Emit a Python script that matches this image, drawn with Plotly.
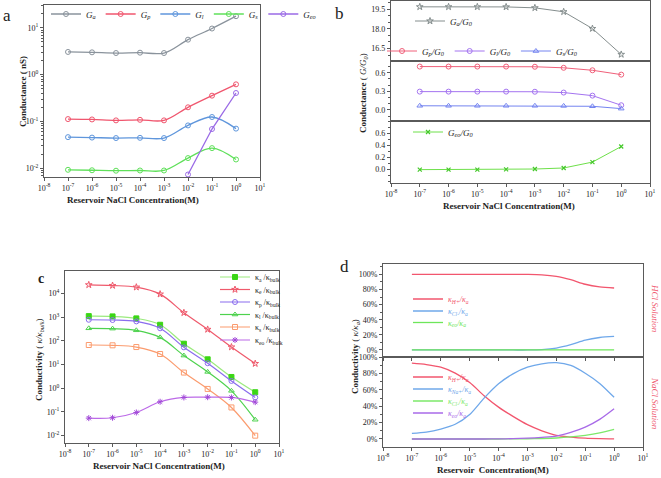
import plotly.graph_objects as go

W, H = 661, 478
FONT = "Liberation Serif"

# ---------------- data ----------------
conc = [1e-7, 1e-6, 1e-5, 1e-4, 1e-3, 1e-2, 1e-1, 1e0]
x_tickvals = [1e-8, 1e-7, 1e-6, 1e-5, 1e-4, 1e-3, 1e-2, 1e-1, 1e0, 1e1]
x_ticktext = ["10<sup>-8</sup>", "10<sup>-7</sup>", "10<sup>-6</sup>", "10<sup>-5</sup>", "10<sup>-4</sup>",
              "10<sup>-3</sup>", "10<sup>-2</sup>", "10<sup>-1</sup>", "10<sup>0</sup>", "10<sup>1</sup>"]

# panel a: conductance (nS)
a_Ga = [3.06, 3.0, 2.9, 2.95, 2.9, 5.6, 9.7, 17.8]
a_Gp = [0.112, 0.11, 0.105, 0.108, 0.105, 0.2, 0.355, 0.62]
a_Gl = [0.046, 0.045, 0.044, 0.0445, 0.044, 0.082, 0.124, 0.07]
a_Gs = [0.0092, 0.009, 0.0088, 0.0089, 0.0089, 0.0164, 0.0268, 0.0153]
a_Geo_conc = [1e-2, 1e-1, 1e0]
a_Geo = [0.0073, 0.0686, 0.405]
a_y_tickvals = [1e-2, 1e-1, 1e0, 1e1]
a_y_ticktext = ["10<sup>-2</sup>", "10<sup>-1</sup>", "10<sup>0</sup>", "10<sup>1</sup>"]

# panel b: G/G0
b_Ga = [19.675, 19.675, 19.675, 19.67, 19.6, 19.3, 18.02, 16.05]
b_Gp = [0.70, 0.70, 0.70, 0.70, 0.697, 0.68, 0.64, 0.57]
b_Gl = [0.295, 0.295, 0.295, 0.295, 0.293, 0.28, 0.23, 0.075]
b_Gs = [0.066, 0.066, 0.066, 0.066, 0.066, 0.064, 0.058, 0.02]
b_Geo = [0.0, 0.0, 0.0, 0.003, 0.01, 0.027, 0.124, 0.38]

# panel c: kappa / kappa_bulk
c_ka = [1110, 1080, 890, 480, 76, 16.7, 3.0, 0.68]
c_ke = [23200, 21700, 18500, 9400, 1540, 305, 55, 11]
c_kp = [780, 760, 665, 340, 53.5, 11.4, 2.04, 0.41]
c_kl = [340, 330, 280, 141, 24, 4.9, 0.78, 0.047]
c_ks = [67, 65, 55, 28, 4.6, 0.94, 0.155, 0.01]
c_keo = [0.055, 0.057, 0.095, 0.27, 0.41, 0.42, 0.41, 0.26]
c_y_tickvals = [1e-2, 1e-1, 1e0, 1e1, 1e2, 1e3, 1e4]
c_y_ticktext = ["10<sup>-2</sup>", "10<sup>-1</sup>", "10<sup>0</sup>", "10<sup>1</sup>",
                "10<sup>2</sup>", "10<sup>3</sup>", "10<sup>4</sup>"]

# panel d: fractions (%)
d_conc = [1e-7, 3.16e-7, 1e-6, 3.16e-6, 1e-5, 3.16e-5, 1e-4, 3.16e-4, 1e-3,
          3.16e-3, 1e-2, 3.16e-2, 1e-1, 3.16e-1, 1e0]
d_hcl_H = [100, 100, 100, 100, 100, 100, 100, 100, 100, 99.5, 97.5, 93, 87, 83.5, 82]
d_hcl_Cl = [0, 0, 0, 0, 0, 0, 0, 0, 0, 0.5, 2.5, 7, 13, 16.5, 18]
d_hcl_eo = [0, 0, 0, 0, 0, 0, 0, 0, 0, 0, 0, 0, 0, 0, 0]
d_nacl_H = [92.7, 91, 87.8, 80.5, 69, 53, 39, 27.6, 17.5, 10, 4.5, 2.4, 1.0, 0.4, 0.2]
d_nacl_Na = [6.9, 8.5, 12.2, 18, 30, 50, 67.5, 79.7, 87.8, 92, 93.3, 90, 80.5, 68, 51]
d_nacl_Cl = [0, 0, 0, 0, 0, 0, 0, 0.1, 0.3, 0.6, 1.2, 2.5, 4.5, 7.5, 11.8]
d_nacl_eo = [0, 0, 0, 0, 0, 0, 0.1, 0.4, 1, 2, 3.5, 8, 14.5, 24, 37]
d_y_tickvals = [0, 20, 40, 60, 80, 100]
d_y_ticktext = ["0%", "20%", "40%", "60%", "80%", "100%"]

# ---------------- helpers ----------------
def xdom(l, r):
    return [l / W, r / W]

def ydom(t, b):
    return [1 - b / H, 1 - t / H]

def px(x):
    return x / W

def py(y):
    return 1 - y / H

LINEC = "#5a5a5a"
TICKFONT = dict(family=FONT, size=8, color="#222")

def base_axis(**kw):
    d = dict(showline=True, linecolor=LINEC, linewidth=1.2, mirror=True, ticks="outside",
             ticklen=3, tickwidth=1, tickcolor=LINEC, showgrid=False, zeroline=False,
             automargin=False, tickfont=TICKFONT)
    d.update(kw)
    return d

def xlog(domain, anchor, labels=True, ticks="outside"):
    return base_axis(type="log", range=[-8, 1], domain=domain, anchor=anchor,
                     tickmode="array", tickvals=x_tickvals, ticktext=x_ticktext,
                     showticklabels=labels, ticks=ticks)

def leg(x, y, color="#222", orientation="v", size=8):
    return dict(x=px(x), y=py(y), xanchor="left", yanchor="middle", orientation=orientation,
                bgcolor="rgba(0,0,0,0)", borderwidth=0, itemwidth=30, tracegroupgap=0,
                font=dict(family=FONT, size=size, color=color))

fig = go.Figure()

# ---------------- panel a ----------------
a_series = [
    ("<i>G<sub>a</sub></i>", a_Ga, "#8a939c"),
    ("<i>G<sub>p</sub></i>", a_Gp, "#f0566e"),
    ("<i>G<sub>l</sub></i>", a_Gl, "#5f96dc"),
    ("<i>G<sub>s</sub></i>", a_Gs, "#5fe05a"),
]
for name, ys, col in a_series:
    fig.add_trace(go.Scatter(x=conc, y=ys, name=name, mode="lines+markers",
                             line=dict(color=col, width=1.3, shape="spline", smoothing=1),
                             marker=dict(symbol="circle-open", size=5, color=col, line=dict(width=1)),
                             xaxis="x", yaxis="y", legend="legend"))
fig.add_trace(go.Scatter(x=a_Geo_conc, y=a_Geo, name="<i>G<sub>eo</sub></i>", mode="lines+markers",
                         line=dict(color="#9a6ae6", width=1.3),
                         marker=dict(symbol="circle-open", size=5, color="#9a6ae6", line=dict(width=1)),
                         xaxis="x", yaxis="y", legend="legend"))

# ---------------- panel b ----------------
fig.add_trace(go.Scatter(x=conc, y=b_Ga, name="<i>G<sub>a</sub>/G<sub>0</sub></i>", mode="lines+markers",
                         line=dict(color="#858e8e", width=1),
                         marker=dict(symbol="star-open", size=5, color="#858e8e", line=dict(width=1)),
                         xaxis="x2", yaxis="y2", legend="legend2"))
for name, ys, col, sym in [
    ("<i>G<sub>p</sub>/G<sub>0</sub></i>", b_Gp, "#f0607a", "circle-open"),
    ("<i>G<sub>l</sub>/G<sub>0</sub></i>", b_Gl, "#a474f0", "circle-open"),
    ("<i>G<sub>s</sub>/G<sub>0</sub></i>", b_Gs, "#7484f0", "triangle-up-open"),
]:
    fig.add_trace(go.Scatter(x=conc, y=ys, name=name, mode="lines+markers",
                             line=dict(color=col, width=1),
                             marker=dict(symbol=sym, size=5, color=col, line=dict(width=1)),
                             xaxis="x3", yaxis="y3", legend="legend3"))
fig.add_trace(go.Scatter(x=conc, y=b_Geo, name="<i>G<sub>eo</sub>/G<sub>0</sub></i>", mode="lines+markers",
                         line=dict(color="#6ee04a", width=1),
                         marker=dict(symbol="x-thin-open", size=4, color="#44c82a", line=dict(width=1.2)),
                         xaxis="x4", yaxis="y4", legend="legend4"))

# ---------------- panel c ----------------
c_series = [
    ("κ<sub>a</sub> /κ<sub>bulk</sub>", c_ka, "#9bea7e", "square", "#3ad614"),
    ("κ<sub>e</sub> /κ<sub>bulk</sub>", c_ke, "#ef5a6c", "star-open", "#ef5a6c"),
    ("κ<sub>p</sub> /κ<sub>bulk</sub>", c_kp, "#8a6cee", "circle-open", "#8a6cee"),
    ("κ<sub>l</sub> /κ<sub>bulk</sub>", c_kl, "#4ed24e", "triangle-up-open", "#4ed24e"),
    ("κ<sub>s</sub> /κ<sub>bulk</sub>", c_ks, "#fb9b6e", "square-open", "#fb9b6e"),
    ("κ<sub>eo</sub> /κ<sub>bulk</sub>", c_keo, "#bc6ae8", "asterisk-open", "#a24ad8"),
]
c_leg_y = [277, 289.5, 302, 314.5, 327, 340]
for i, (name, ys, col, sym, mcol) in enumerate(c_series):
    lname = "legend" + str(5 + i)
    fig.add_trace(go.Scatter(x=conc, y=ys, name=name, mode="lines+markers",
                             line=dict(color=col, width=1.2, shape="spline", smoothing=1),
                             marker=dict(symbol=sym, size=5, color=mcol, line=dict(width=1, color=mcol)),
                             xaxis="x5", yaxis="y5", legend=lname))

# ---------------- panel d ----------------
d_top = [
    ("<i>κ<sub>H+</sub>/κ<sub>a</sub></i>", d_hcl_H, "#f2566e"),
    ("<i>κ<sub>Cl-</sub>/κ<sub>a</sub></i>", d_hcl_Cl, "#6fa8ea"),
    ("<i>κ<sub>eo</sub>/κ<sub>a</sub></i>", d_hcl_eo, "#6ee65a"),
]
d_bot = [
    ("<i>κ<sub>H+</sub>/κ<sub>a</sub></i>", d_nacl_H, "#f2566e"),
    ("<i>κ<sub>Na+</sub>/κ<sub>a</sub></i>", d_nacl_Na, "#6fa8ea"),
    ("<i>κ<sub>Cl-</sub>/κ<sub>a</sub></i>", d_nacl_Cl, "#7de86a"),
    ("<i>κ<sub>eo</sub>/κ<sub>a</sub></i>", d_nacl_eo, "#a86ae8"),
]
d_top_leg_y = [299, 311, 322.5]
d_bot_leg_y = [377, 389, 401, 413]
for i, (name, ys, col) in enumerate(d_top):
    fig.add_trace(go.Scatter(x=d_conc, y=ys, name=name, mode="lines",
                             line=dict(color=col, width=1.3, shape="spline", smoothing=0.8),
                             xaxis="x6", yaxis="y6", legend="legend" + str(11 + i)))
for i, (name, ys, col) in enumerate(d_bot):
    fig.add_trace(go.Scatter(x=d_conc, y=ys, name=name, mode="lines",
                             line=dict(color=col, width=1.3, shape="spline", smoothing=0.8),
                             xaxis="x7", yaxis="y7", legend="legend" + str(14 + i)))

# ---------------- layout ----------------
layout = dict(
    template="none",
    width=W, height=H, margin=dict(l=0, r=0, t=0, b=0, pad=0, autoexpand=False),
    paper_bgcolor="white", plot_bgcolor="white",
    font=dict(family=FONT, size=8, color="#222"),
    showlegend=True,
)

# panel a axes
layout["xaxis"] = xlog(xdom(44, 260), "y")
layout["yaxis"] = base_axis(type="log", range=[-2.19, 1.49], domain=ydom(5, 177), anchor="x",
                            tickmode="array", tickvals=a_y_tickvals, ticktext=a_y_ticktext,
                            minor=dict(ticks="outside", ticklen=2, dtick="D1", tickcolor=LINEC))
# panel b axes
layout["xaxis2"] = xlog(xdom(391, 650), "y2", labels=False, ticks="")
layout["yaxis2"] = base_axis(range=[15.55, 20.12], domain=ydom(1, 61), anchor="x2",
                             tickmode="array", tickvals=[16.5, 18.0, 19.5], tickformat=".1f",
                             minor=dict(ticks="outside", ticklen=2, dtick=0.5, tickcolor=LINEC))
layout["xaxis3"] = xlog(xdom(391, 650), "y3", labels=False, ticks="")
layout["yaxis3"] = base_axis(range=[-0.18, 0.79], domain=ydom(61, 121), anchor="x3",
                             tickmode="array", tickvals=[0.0, 0.3, 0.6], tickformat=".1f",
                             minor=dict(ticks="outside", ticklen=2, dtick=0.1, tickcolor=LINEC))
layout["xaxis4"] = xlog(xdom(391, 650), "y4")
layout["yaxis4"] = base_axis(range=[-0.22, 0.80], domain=ydom(121, 183), anchor="x4",
                             tickmode="array", tickvals=[0.0, 0.2, 0.4, 0.6], tickformat=".1f",
                             minor=dict(ticks="outside", ticklen=2, dtick=0.1, tickcolor=LINEC))
# panel c axes
layout["xaxis5"] = xlog(xdom(65, 279), "y5")
layout["yaxis5"] = base_axis(type="log", range=[-2.31, 4.95], domain=ydom(271, 443), anchor="x5",
                             tickmode="array", tickvals=c_y_tickvals, ticktext=c_y_ticktext)
# panel d axes
layout["xaxis6"] = xlog(xdom(383, 643), "y6", labels=False)
layout["yaxis6"] = base_axis(range=[-9.3, 113.8], domain=ydom(264, 357), anchor="x6",
                             tickmode="array", tickvals=d_y_tickvals, ticktext=d_y_ticktext,
                             minor=dict(ticks="outside", ticklen=2, dtick=10, tickcolor=LINEC))
layout["xaxis7"] = xlog(xdom(383, 643), "y7")
layout["yaxis7"] = base_axis(range=[-9.8, 100.3], domain=ydom(357, 447), anchor="x7",
                             tickmode="array", tickvals=d_y_tickvals, ticktext=d_y_ticktext,
                             minor=dict(ticks="outside", ticklen=2, dtick=10, tickcolor=LINEC))

# legends
layout["legend"] = leg(46, 14, orientation="h", size=9)
layout["legend2"] = leg(410, 21, size=9)
layout["legend3"] = leg(382, 51, orientation="h", size=9)
layout["legend4"] = leg(408, 132, size=9)
for i in range(6):
    layout["legend" + str(5 + i)] = leg(215, c_leg_y[i], size=8)
for i, (_, _, col) in enumerate(d_top):
    layout["legend" + str(11 + i)] = leg(408, d_top_leg_y[i], color=col, size=8)
for i, (_, _, col) in enumerate(d_bot):
    layout["legend" + str(14 + i)] = leg(408, d_bot_leg_y[i], color=col, size=8)

fig.update_layout(**layout)

# ---------------- text annotations ----------------
def ann(text, x, y, size=9, angle=0, color="#222", bold=False, italic=False):
    t = text
    if bold:
        t = "<b>" + t + "</b>"
    if italic:
        t = "<i>" + t + "</i>"
    fig.add_annotation(text=t, x=px(x), y=py(y), xref="paper", yref="paper", showarrow=False,
                       textangle=angle, xanchor="center", yanchor="middle",
                       font=dict(family=FONT, size=size, color=color))

ann("a", 7, 16, size=17)
ann("b", 339, 13, size=17)
ann("c", 41, 278, size=14, bold=True)
ann("d", 344, 266, size=17)

ann("Reservoir NaCl Concentration(M)", 133, 200, size=9, bold=True)
ann("Conductance ( nS)", 23, 92, size=9, bold=True, angle=-90)
ann("Reservoir NaCl Concentration(M)", 509, 206, size=9, bold=True)
ann("<b>Conductance</b> ( <i>G/G<sub>0</sub></i>)", 363, 93, size=9, angle=-90)
ann("Reservoir NaCl Concentration(M)", 159, 466, size=9, bold=True)
ann("<b>Conductivity</b> ( <i>κ/κ<sub>bulk</sub></i>)", 39, 360, size=9, angle=-90)
ann("Reservoir  Concentration(M)", 493, 470, size=9, bold=True)
ann("<b>Conductivity</b> ( <i>κ/κ<sub>a</sub></i>)", 355, 357, size=9, angle=-90)
ann("HCl Solution", 655, 308, size=9, angle=90, color="#f0566e", italic=True)
ann("NaCl Solution", 655, 403, size=9, angle=90, color="#f0566e", italic=True)

fig.write_html("out.html", config={"displayModeBar": False},
               post_script="document.body.style.margin='0px';document.body.style.overflow='hidden';")
